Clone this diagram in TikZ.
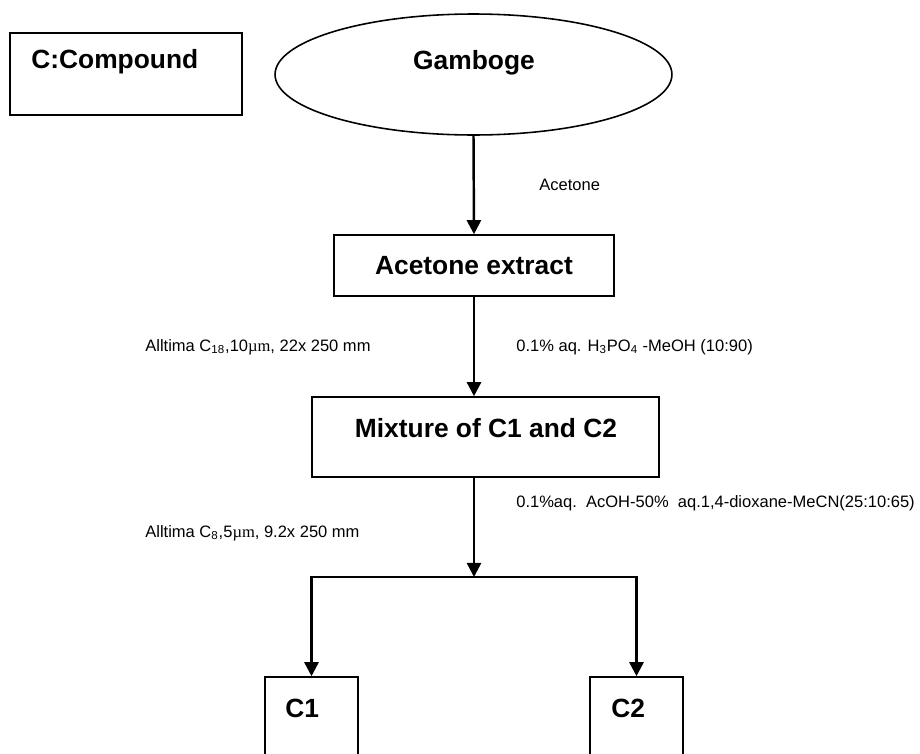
\documentclass[tikz,border=0pt]{standalone}
\usepackage{fontspec}
\setmainfont{Liberation Sans}
\newfontfamily\serifmu{Liberation Serif}
\usetikzlibrary{arrows.meta,shapes.geometric}

\tikzset{
    box/.style={draw, line width=0.9pt, inner sep=0pt},
    flow/.style={line width=1.4pt, -{Triangle[length=8pt,width=8pt]}},
    head/.style={font=\fontsize{15}{18}\selectfont\bfseries, inner sep=0pt},
    note/.style={font=\fontsize{9.4}{11}\selectfont, anchor=west, inner sep=0pt}
}

\begin{document}
\begin{tikzpicture}[x=0.02cm, y=-0.02cm]
    \clip (0,0) rectangle (920,754);
    \node[box, minimum width=4.64cm, minimum height=1.64cm] (compound) at (126,74) {};
    \node[head, anchor=west] (key) at (31,62) {C:Compound};
    \node[box, ellipse, minimum width=7.94cm, minimum height=2.42cm] (gamboge) at (473.5,74.5) {};
    \node[head] (gamboget) at (474,63) {Gamboge};
    \node[box, head, minimum width=5.6cm, minimum height=1.22cm] (extract) at (474,265.5) {Acetone extract};
    \node[box, minimum width=6.94cm, minimum height=1.6cm] (mix) at (485.5,437) {};
    \node[head] (mixt) at (486,428) {Mixture of C1 and C2};
    \node[box, minimum width=1.86cm, minimum height=2.4cm] (c1) at (311.5,737) {};
    \node[box, minimum width=1.86cm, minimum height=2.4cm] (c2) at (636.5,737) {};
    \node[head, anchor=west] (c1t) at (285,708) {C1};
    \node[head, anchor=west] (c2t) at (611,708) {C2};
    \coordinate (split) at (474,577);

    \node[note] (solv1) at (539,185) {Acetone};
    \node[note] (col1) at (145,347) {Alltima C\textsubscript{18},10{\serifmu µm}, 22x 250 mm};
    \node[note] (eluent1) at (516,347) {0.1\% aq. H\textsubscript{3}PO\textsubscript{4} -MeOH (10:90)};
    \node[note] (col2) at (145,533) {Alltima C\textsubscript{8},5{\serifmu µm}, 9.2x 250 mm};
    \node[note] (eluent2) at (516,503) {0.1\%aq.\ \ AcOH-50\%\ \ aq.1,4-dioxane-MeCN(25:10:65)};

    \draw[flow] (gamboge.south) -- (extract.north);
    \draw[flow] (extract.south) -- (extract.south |- mix.north);
    \draw[flow] (mix.south -| split) -- (split);
    \draw[flow] (split) -| (c1.north);
    \draw[flow] (split) -| (c2.north);
\end{tikzpicture}
\end{document}
